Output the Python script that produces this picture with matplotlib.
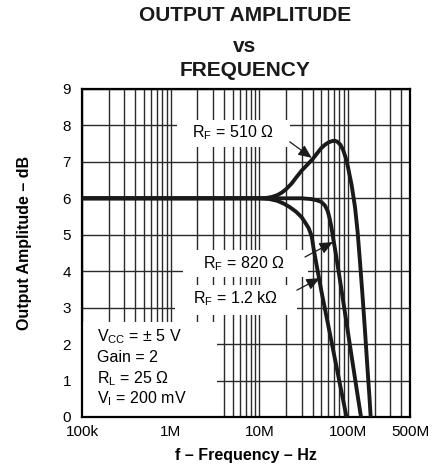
import matplotlib
matplotlib.use('Agg')
import matplotlib.pyplot as plt
from matplotlib.patches import Rectangle
from matplotlib.ticker import FixedLocator, NullFormatter

plt.rcParams['font.family'] = ['Liberation Sans', 'DejaVu Sans']
plt.rcParams['mathtext.fontset'] = 'custom'
plt.rcParams['mathtext.rm'] = 'Liberation Sans'

# Frequency response curves (Hz, dB)
freq_510 = [1e5, 1e6, 1e7, 12e6, 14e6, 16e6, 18e6, 20e6, 23e6, 26e6, 30e6, 35e6, 40e6,
            45e6, 50e6, 55e6, 60e6, 66e6, 71e6, 76e6, 82e6, 88e6, 94e6, 100e6, 110e6,
            120e6, 128e6, 136e6, 145e6, 155e6, 165e6, 175e6, 180e6]
amp_510 = [6.0, 6.0, 6.0, 6.01, 6.04, 6.09, 6.16, 6.25, 6.4, 6.57, 6.76, 6.93, 7.08,
           7.24, 7.38, 7.47, 7.53, 7.57, 7.58, 7.55, 7.47, 7.33, 7.12, 6.85, 6.35,
           5.75, 5.1, 4.3, 3.4, 2.4, 1.4, 0.5, 0.0]

freq_820 = [1e5, 1e6, 1e7, 30e6, 38e6, 44e6, 50e6, 55e6, 59e6, 62e6, 65e6, 68e6, 72e6,
            80e6, 90e6, 100e6, 110e6, 125e6, 140e6]
amp_820 = [6.0, 6.0, 6.0, 6.0, 5.98, 5.95, 5.9, 5.8, 5.65, 5.45, 5.2, 4.9, 4.55,
           3.85, 3.04, 2.31, 1.65, 0.77, 0.0]

freq_1k2 = [1e5, 1e6, 1e7, 13e6, 16e6, 19e6, 22e6, 26e6, 30e6, 33e6, 36e6, 39e6, 41e6,
            50e6, 60e6, 70e6, 80e6, 90e6, 96e6]
amp_1k2 = [6.0, 6.0, 6.0, 5.98, 5.93, 5.85, 5.76, 5.63, 5.48, 5.33, 5.18, 4.95, 4.6,
           3.46, 2.5, 1.68, 0.97, 0.35, 0.0]

x_ticks = [1e5, 1e6, 1e7, 1e8, 5e8]
x_tick_labels = ['100k', '1M', '10M', '100M', '500M']
y_ticks = list(range(0, 10))
minor_x = [m * 10 ** d for d in range(5, 9) for m in range(2, 10) if m * 10 ** d < 5e8]

fig = plt.figure(figsize=(4.46, 4.70), dpi=100)
ax = fig.add_axes([0.1839, 0.1128, 0.7354, 0.6979])

ax.set_xscale('log')
ax.set_xlim(1e5, 5e8)
ax.set_ylim(0, 9)
ax.set_axisbelow(True)

ax.xaxis.set_major_locator(FixedLocator(x_ticks))
ax.set_xticklabels(x_tick_labels)
ax.xaxis.set_minor_locator(FixedLocator(minor_x))
ax.xaxis.set_minor_formatter(NullFormatter())
ax.set_yticks(y_ticks)

ax.grid(True, which='both', axis='x', color='#2a2a2a', linewidth=1.0)
ax.grid(True, which='major', axis='y', color='#2a2a2a', linewidth=1.0)
ax.tick_params(which='both', direction='in', labelsize=11, length=3, width=0.8,
               color='#333333', pad=6)
ax.tick_params(axis='y', length=0, pad=8)

for sp in ax.spines.values():
    sp.set_linewidth(1.6)

# white backgrounds behind the labels, cutting the grid
boxes = [
    (0.290, 0.823, 0.344, 0.082),
    (0.308, 0.427, 0.381, 0.082),
    (0.284, 0.311, 0.371, 0.092),
    (0.0, 0.0, 0.412, 0.290),
]
for bx, by, bw, bh in boxes:
    ax.add_patch(Rectangle((bx, by), bw, bh, transform=ax.transAxes,
                           facecolor='white', edgecolor='none', zorder=1))

lw = 2.8
for f, a in [(freq_510, amp_510), (freq_820, amp_820), (freq_1k2, amp_1k2)]:
    ax.plot(f, a, color='#1a1a1a', linewidth=lw, zorder=4, solid_joinstyle='round')

arrow = dict(arrowstyle='-|>,head_length=0.8,head_width=0.35', color='#1a1a1a',
             linewidth=0.9, shrinkA=0, shrinkB=0)

ax.text(5.0e6, 7.79, r'R$_{\mathrm{F}}$ = 510 Ω', ha='center', va='center', fontsize=11.5, zorder=5)
ax.annotate('', xy=(39e6, 7.11), xytext=(22e6, 7.55), arrowprops=arrow, zorder=5)

ax.text(6.7e6, 4.22, r'R$_{\mathrm{F}}$ = 820 Ω', ha='center', va='center', fontsize=11.5, zorder=5)
ax.annotate('', xy=(67.6e6, 4.8), xytext=(32.7e6, 4.39), arrowprops=arrow, zorder=5)

ax.text(5.45e6, 3.26, r'R$_{\mathrm{F}}$ = 1.2 kΩ', ha='center', va='center', fontsize=11.5, zorder=5)
ax.annotate('', xy=(48e6, 3.81), xytext=(26.5e6, 3.48), arrowprops=arrow, zorder=5)

conditions = [r'V$_{\mathrm{CC}}$ = ± 5 V', 'Gain = 2', r'R$_{\mathrm{L}}$ = 25 Ω',
              r'V$_{\mathrm{I}}$ = 200 mV']
cond_y = [2.2, 1.62, 1.06, 0.51]
for txt, yy in zip(conditions, cond_y):
    ax.text(0.046, yy, txt, transform=ax.get_yaxis_transform(), ha='left',
            va='center', fontsize=11.5, zorder=5)

ax.set_xlabel('f – Frequency – Hz', fontsize=11.5, fontweight='bold', labelpad=6)
ax.set_ylabel('Output Amplitude – dB', fontsize=11.5, fontweight='bold')
ax.yaxis.set_label_coords(-0.152, 0.53)

for txt, yy in zip(['OUTPUT AMPLITUDE', 'vs', 'FREQUENCY'], [0.966, 0.900, 0.851]):
    fig.text(0.549, yy, txt, ha='center', va='center', fontsize=15, fontweight='bold',
             color='#1a1a1a')

fig.savefig('out.png', dpi=100)
